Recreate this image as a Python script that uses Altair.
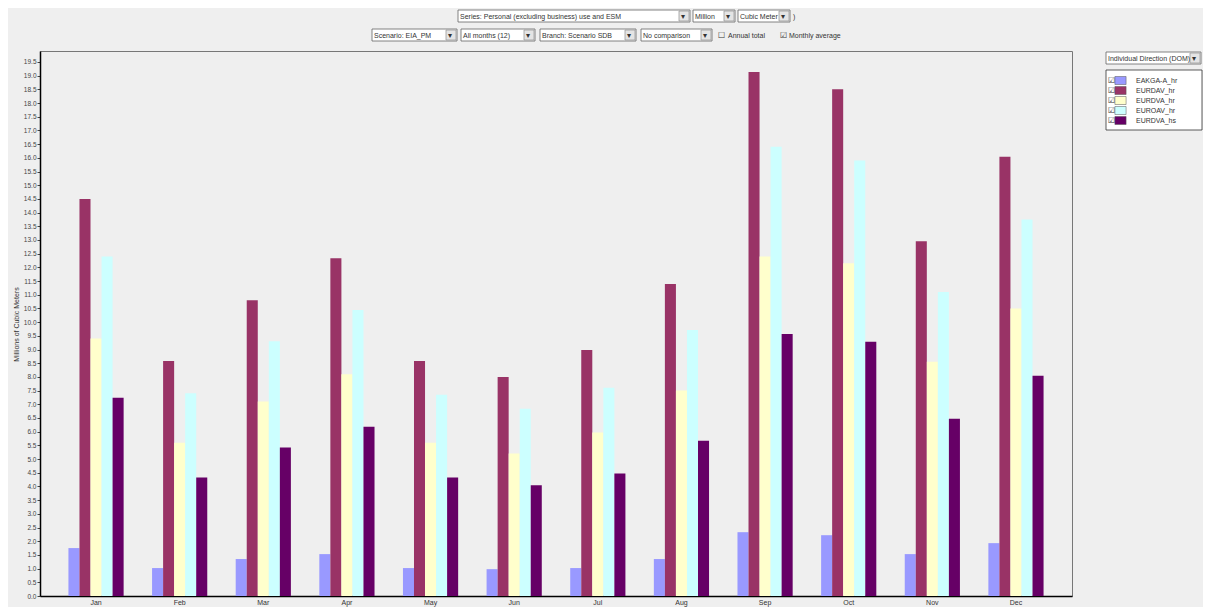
import altair as alt
import pandas as pd

months = ["Jan", "Feb", "Mar", "Apr", "May", "Jun", "Jul", "Aug", "Sep", "Oct", "Nov", "Dec"]
series = ["EAKGA-A_hr", "EURDAV_hr", "EURDVA_hr", "EUROAV_hr", "EURDVA_hs"]
colors = ["#9999ff", "#993366", "#ffffcc", "#ccffff", "#660066"]

s1 = [1.75, 1.02, 1.35, 1.53, 1.02, 0.98, 1.02, 1.35, 2.33, 2.22, 1.53, 1.93]
s2 = [14.5, 8.58, 10.8, 12.33, 8.58, 8.0, 8.98, 11.39, 19.13, 18.5, 12.95, 16.04]
s3 = [9.4, 5.6, 7.1, 8.1, 5.6, 5.2, 5.97, 7.5, 12.4, 12.15, 8.55, 10.5]
s4 = [12.4, 7.4, 9.3, 10.44, 7.35, 6.84, 7.6, 9.71, 16.4, 15.9, 11.1, 13.75]
s5 = [7.24, 4.33, 5.42, 6.18, 4.33, 4.04, 4.47, 5.67, 9.57, 9.28, 6.47, 8.04]

y_ticks = [i / 2 for i in range(0, 40)]
y_title = "Millions of Cubic Meters"

rows = []
for name, vals in zip(series, [s1, s2, s3, s4, s5]):
    for m, v in zip(months, vals):
        rows.append({"month": m, "series": name, "value": v})
df = pd.DataFrame(rows)

FONT = "Liberation Sans"

# ---- decorative UI widgets (drop-downs / checkboxes), pixel offsets from plot origin ----
dropdowns = [
    ("Series: Personal (excluding business) use and ESM", 418, 650, -41),
    ("Million", 653, 695, -41),
    ("Cubic Meter", 698, 750, -41),
    ("Scenario: EIA_PM", 332, 417, -22),
    ("All months (12)", 421, 495, -22),
    ("Branch: Scenario SDB", 500, 596, -22),
    ("No comparison", 601, 672, -22),
    ("Individual Direction (DOM)", 1066, 1161, 1),
]
box_rows, text_rows, sym_rows = [], [], []
for label, x0, x1, y0 in dropdowns:
    box_rows.append({"x": x0, "x2": x1, "y": y0, "y2": y0 + 12, "fill": "#ffffff", "stroke": "#666666"})
    box_rows.append({"x": x1 - 11, "x2": x1 - 1, "y": y0 + 1, "y2": y0 + 11, "fill": "#e4e4e4", "stroke": "#999999"})
    text_rows.append({"t": label, "x": x0 + 2, "y": y0 + 6.5})
    sym_rows.append({"t": "▾", "x": x1 - 9, "y": y0 + 6.5})
# legend box
box_rows.append({"x": 1066, "x2": 1162, "y": 19, "y2": 79, "fill": "#ffffff", "stroke": "#333333"})
text_rows += [
    {"t": ")", "x": 753, "y": -34.5},
    {"t": "Annual total", "x": 688, "y": -15.5},
    {"t": "Monthly average", "x": 749, "y": -15.5},
]
sym_rows += [
    {"t": "☐", "x": 678, "y": -15.5},
    {"t": "☑", "x": 740, "y": -15.5},
]
for i in range(5):
    sym_rows.append({"t": "☑", "x": 1068, "y": 29.5 + 10 * i})

boxes = pd.DataFrame(box_rows)
texts = pd.DataFrame(text_rows)
syms = pd.DataFrame(sym_rows)

bars = alt.Chart(df).mark_bar().encode(
    x=alt.X("month:N", sort=months,
            scale=alt.Scale(paddingInner=0.34, paddingOuter=0.34),
            axis=alt.Axis(title=None, labelAngle=0, tickSize=0, labelPadding=2,
                          labelFontSize=7, labelColor="#333", labelFont=FONT,
                          domainColor="#000", domainWidth=1.5)),
    xOffset=alt.XOffset("series:N", sort=series,
                        scale=alt.Scale(paddingInner=0, paddingOuter=0)),
    y=alt.Y("value:Q",
            scale=alt.Scale(domain=[0, 19.9], nice=False, zero=True),
            axis=alt.Axis(values=y_ticks, format=".1f", title=y_title,
                          grid=False, tickSize=3, labelPadding=1,
                          labelFontSize=6.5, labelColor="#444", labelFont=FONT,
                          titleFontSize=7, titleFontWeight="normal", titleColor="#333",
                          titleFont=FONT, titleX=-21, titleY=273,
                          domainColor="#000", domainWidth=1.5, tickColor="#444")),
    color=alt.Color("series:N",
                    scale=alt.Scale(domain=series, range=colors),
                    legend=alt.Legend(orient="none", legendX=1076, legendY=25,
                                      title=None, padding=0, zindex=1,
                                      symbolType="M-1.4,-1L1.4,-1L1.4,1L-1.4,1Z",
                                      symbolSize=64, symbolStrokeWidth=0.5,
                                      symbolStrokeColor="#555",
                                      labelFontSize=7, labelFont=FONT, labelColor="#333",
                                      labelOffset=11, rowPadding=-2)),
)

ui_boxes = alt.Chart(boxes).mark_rect(strokeWidth=0.8).encode(
    x=alt.X("x:Q", scale=None, axis=None),
    x2="x2:Q",
    y=alt.Y("y:Q", scale=None, axis=None),
    y2="y2:Q",
    fill=alt.Fill("fill:N", scale=None, legend=None),
    stroke=alt.Stroke("stroke:N", scale=None, legend=None),
)

ui_text = alt.Chart(texts).mark_text(align="left", baseline="middle", fontSize=7,
                                     color="#333", font=FONT).encode(
    x=alt.X("x:Q", scale=None, axis=None),
    y=alt.Y("y:Q", scale=None, axis=None),
    text="t:N",
)

ui_syms = alt.Chart(syms).mark_text(align="left", baseline="middle", fontSize=8,
                                    color="#333", font="DejaVu Sans").encode(
    x=alt.X("x:Q", scale=None, axis=None),
    y=alt.Y("y:Q", scale=None, axis=None),
    text="t:N",
)

chart = alt.layer(bars, ui_boxes, ui_text, ui_syms).resolve_scale(
    x="independent", y="independent", fill="independent", stroke="independent"
).properties(
    width=1032, height=545,
    autosize=alt.AutoSizeParams(type="none"),
    padding={"left": 32, "top": 43, "right": 131, "bottom": 11},
    background="#efefef",
).configure_view(stroke="#777", strokeWidth=1)

chart.save("out.html", embed_options={"renderer": "svg", "actions": False})
